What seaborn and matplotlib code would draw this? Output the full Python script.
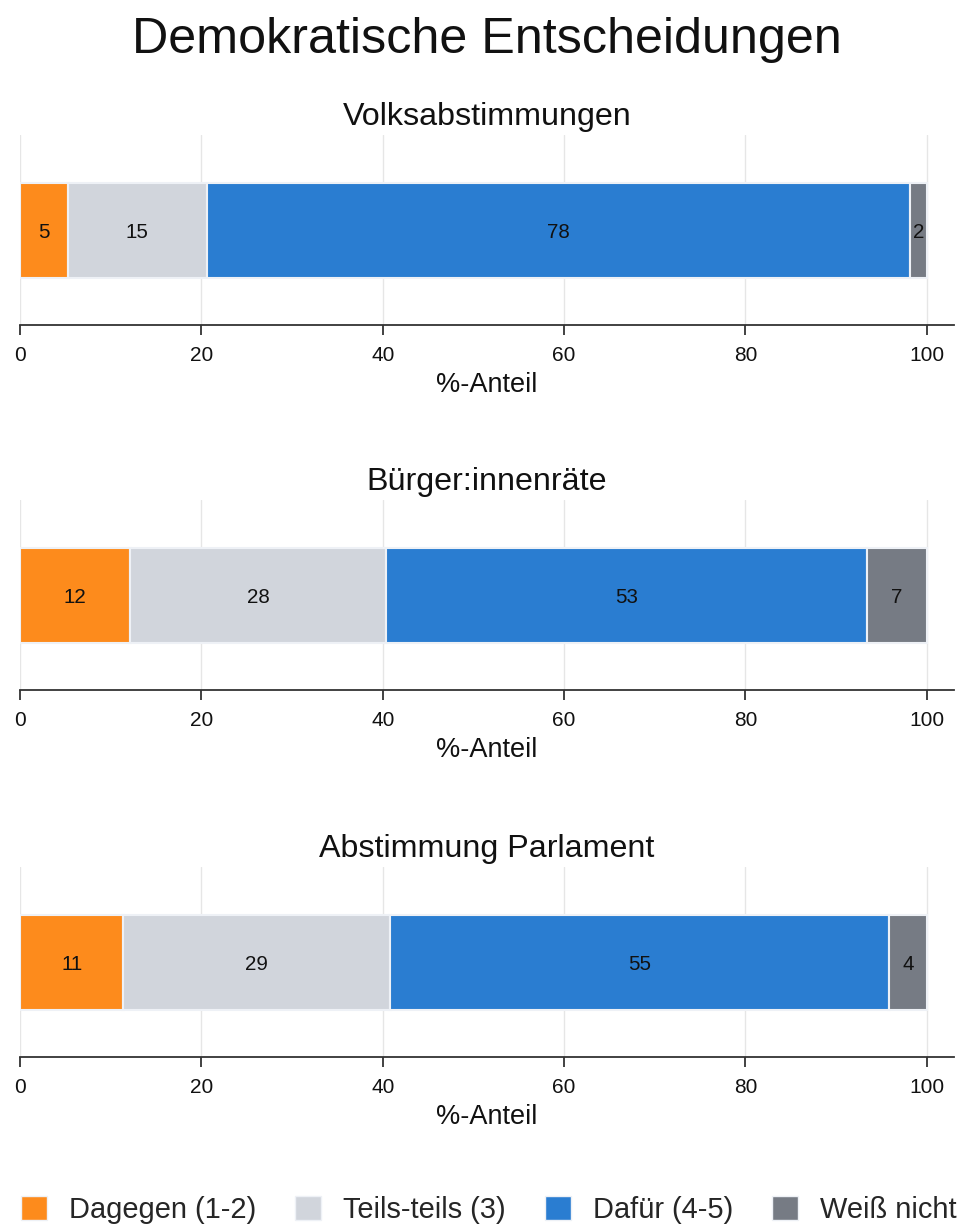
import pandas as pd
import matplotlib
matplotlib.use("Agg")
import matplotlib.pyplot as plt
import seaborn as sns
from matplotlib.patches import Patch

# Survey items (one panel each) and answer categories
fragen = ["Volksabstimmungen", "Bürger:innenräte", "Abstimmung Parlament"]
antworten = ["Dagegen (1-2)", "Teils-teils (3)", "Dafür (4-5)", "Weiß nicht"]

# Percentages per answer category, in the order of `fragen`
dagegen = [5.3, 12.1, 11.4]
teils_teils = [15.3, 28.3, 29.4]
dafuer = [77.6, 53.0, 55.0]
weiss_nicht = [1.8, 6.6, 4.2]

farben = ["#fd8b1c", "#d1d5dc", "#2a7dd1", "#767b84"]
x_ticks = [0, 20, 40, 60, 80, 100]

sns.set_theme(style="white")
plt.rcParams["font.family"] = ["Liberation Sans", "DejaVu Sans"]

rows = []
for i, frage in enumerate(fragen):
    for antwort, werte in zip(antworten, [dagegen, teils_teils, dafuer, weiss_nicht]):
        rows.append({"Frage": frage, "Antwort": antwort, "Anteil": werte[i]})
df = pd.DataFrame(rows)
palette = dict(zip(antworten, farben))

W, H = 964, 1226
fig = plt.figure(figsize=(W / 100, H / 100), dpi=100)

ax_left, ax_right = 20, 954
ax_h = 190
bottoms_px = [325, 690, 1057]

for frage, bpx in zip(fragen, bottoms_px):
    ax = fig.add_axes([ax_left / W, 1 - bpx / H, (ax_right - ax_left) / W, ax_h / H])
    sub = df[df["Frage"] == frage]
    # stacking puts the first hue level on top, so pass the order reversed
    sns.histplot(
        data=sub, y="Frage", weights="Anteil", hue="Antwort",
        hue_order=antworten[::-1], palette=palette, multiple="stack",
        discrete=True, shrink=0.5, alpha=1, edgecolor="#eef1f6",
        linewidth=1.5, legend=False, ax=ax,
    )
    for cont in ax.containers:
        labels = ax.bar_label(cont, fmt="%.0f", label_type="center",
                              fontsize=14.8, color="#111111")
        for t in labels:
            t.set_va("center_baseline")
    ax.set_xlim(0, 103)
    ax.set_ylim(0.5, -0.5)
    ax.set_yticks([])
    ax.set_ylabel("")
    ax.set_xticks(x_ticks)
    ax.set_xlabel("%-Anteil", fontsize=19.5, labelpad=5, color="#111111")
    ax.set_title(frage, fontsize=23.2, pad=7, color="#111111")
    ax.xaxis.grid(True, color="#e6e6e6", linewidth=1)
    ax.set_axisbelow(True)
    for s in ["left", "right", "top"]:
        ax.spines[s].set_visible(False)
    ax.spines["bottom"].set_color("#333333")
    ax.spines["bottom"].set_linewidth(1.3)
    ax.tick_params(axis="x", bottom=True, direction="out", length=7.5,
                   width=1.3, color="#333333", labelsize=15, pad=7.5,
                   labelcolor="#111111")

fig.text(0.505, 1 - 53 / H, "Demokratische Entscheidungen", fontsize=36.2,
         ha="center", va="baseline", color="#111111")

handles = [Patch(facecolor=c, edgecolor="#eef1f6", linewidth=1) for c in farben]
fig.legend(handles, antworten, loc="center", bbox_to_anchor=(0.507, 1 - 1210 / H),
           ncol=4, frameon=False, fontsize=20.9, handlelength=0.9,
           handleheight=0.9, handletextpad=0.75, columnspacing=1.35)

fig.savefig("out.png", dpi=100)
